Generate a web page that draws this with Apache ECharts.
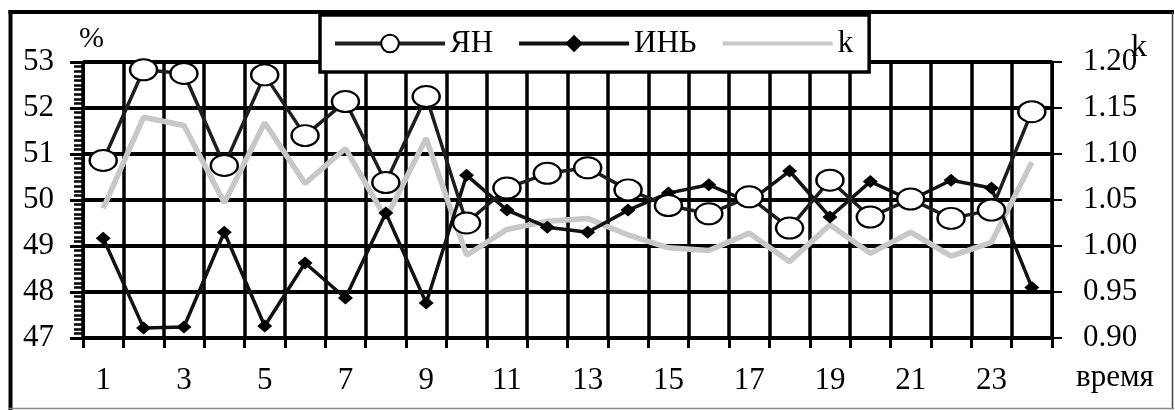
<!DOCTYPE html>
<html>
<head>
<meta charset="utf-8">
<script src="https://cdn.jsdelivr.net/npm/echarts@6/dist/echarts.min.js"></script>
<style>
html,body{margin:0;padding:0;background:#fff;}
#c{width:1175px;height:410px;}
</style>
</head>
<body>
<div id="c"></div>
<script>
var categories = ['1','2','3','4','5','6','7','8','9','10','11','12','13','14','15','16','17','18','19','20','21','22','23','24'];
var yanValues = [50.86,52.83,52.75,50.75,52.72,51.40,52.14,50.38,52.25,49.50,50.26,50.58,50.70,50.22,49.88,49.70,50.07,49.39,50.43,49.63,50.02,49.60,49.78,51.92];
var yinValues = [49.17,47.22,47.24,49.30,47.26,48.63,47.87,49.72,47.76,50.54,49.78,49.41,49.30,49.78,50.15,50.33,49.96,50.63,49.63,50.40,50.00,50.43,50.26,48.10];
var kValues = [1.041,1.140,1.131,1.047,1.134,1.068,1.106,1.030,1.117,0.990,1.018,1.027,1.030,1.012,0.998,0.995,1.014,0.983,1.023,0.992,1.015,0.989,1.004,1.091];
var seriesNames = ['ЯН','ИНЬ','k'];
var leftTicks = {min:47, max:53, interval:1};
var rightTicks = {min:0.90, max:1.20, interval:0.05};

var FONT = 'Liberation Serif';
var FS = 31;
var chart = echarts.init(document.getElementById('c'), null, {renderer:'canvas'});
var ellipse = 'path://M0,10a10,10 0 1,0 20,0a10,10 0 1,0 -20,0';

chart.setOption({
  animation:false,
  backgroundColor:'#fff',
  textStyle:{fontFamily:FONT,color:'#000'},
  grid:{left:83,right:123,top:62,bottom:72,containLabel:false},
  legend:{
    left:320, top:15,
    data:[
      {name:seriesNames[0]},
      {name:seriesNames[1]},
      {name:seriesNames[2], itemStyle:{color:'rgba(0,0,0,0)',borderWidth:0,opacity:0}}
    ],
    itemWidth:110, itemHeight:22, itemGap:24,
    padding:[13,16,13,13],
    backgroundColor:'#fff',
    borderColor:'#000', borderWidth:3.5,
    lineStyle:{width:4},
    textStyle:{fontFamily:FONT,fontSize:FS,color:'#000'},
    z:10
  },
  xAxis:{
    type:'category',
    data:categories,
    boundaryGap:true,
    axisLine:{show:true,lineStyle:{color:'#000',width:3.5}},
    axisTick:{show:true,interval:0,length:10,lineStyle:{color:'#000',width:3}},
    axisLabel:{interval:1,margin:27,fontFamily:FONT,fontSize:FS,color:'#000'},
    splitLine:{show:true,interval:0,lineStyle:{color:'#000',width:3.5}}
  },
  yAxis:[
    {
      type:'value', min:leftTicks.min, max:leftTicks.max, interval:leftTicks.interval,
      axisLine:{show:true,lineStyle:{color:'#000',width:3}},
      axisTick:{show:true,length:13,lineStyle:{color:'#000',width:3}},
      minorTick:{show:true,splitNumber:10,length:9,lineStyle:{color:'#000',width:2.5}},
      axisLabel:{margin:29,fontFamily:FONT,fontSize:FS,color:'#000'},
      splitLine:{show:true,lineStyle:{color:'#000',width:3.8}}
    },
    {
      type:'value', min:rightTicks.min, max:rightTicks.max, interval:rightTicks.interval,
      position:'right',
      axisLine:{show:true,lineStyle:{color:'#000',width:3}},
      axisTick:{show:true,length:10,lineStyle:{color:'#000',width:2}},
      axisLabel:{margin:31,fontFamily:FONT,fontSize:FS,color:'#000',formatter:function(v){return v.toFixed(2);}},
      splitLine:{show:false}
    }
  ],
  series:[
    {
      name:seriesNames[0], type:'line', yAxisIndex:0, data:yanValues,
      symbol:ellipse, symbolSize:[27,21], z:4,
      lineStyle:{color:'#1e1e1e',width:3.5},
      itemStyle:{color:'#fff',borderColor:'#000',borderWidth:2.2}
    },
    {
      name:seriesNames[1], type:'line', yAxisIndex:0, data:yinValues,
      symbol:'diamond', symbolSize:[15,13], z:3,
      lineStyle:{color:'#111',width:3.5},
      itemStyle:{color:'#000'}
    },
    {
      name:seriesNames[2], type:'line', yAxisIndex:1, data:kValues,
      symbol:'none', z:2,
      lineStyle:{color:'#c8c8c8',width:5.5},
      itemStyle:{color:'#c8c8c8'}
    }
  ],
  graphic:[
    {type:'line',shape:{x1:10.5,y1:10,x2:10.5,y2:410},style:{stroke:'#000',lineWidth:4},z:20},
    {type:'line',shape:{x1:8.5,y1:12,x2:1174,y2:12},style:{stroke:'#000',lineWidth:4},z:20},
    {type:'line',shape:{x1:1172.5,y1:12,x2:1172.5,y2:409},style:{stroke:'#444',lineWidth:1.5},z:20},
    {type:'line',shape:{x1:9,y1:408.5,x2:1174,y2:408.5},style:{stroke:'#888',lineWidth:1.5},z:20},
    {type:'text',left:79,top:24,style:{text:'%',font:'30px "Liberation Serif"',fill:'#000'},z:20},
    {type:'text',left:1131,top:32,style:{text:'k',font:'32px "Liberation Serif"',fill:'#000'},z:20},
    {type:'text',left:1076,top:362,style:{text:'время',font:'31px "Liberation Serif"',fill:'#000'},z:20}
  ]
});
</script>
</body>
</html>
